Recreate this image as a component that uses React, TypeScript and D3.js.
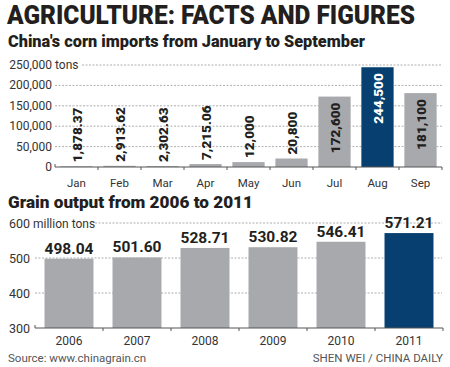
import React from "react";
import * as d3 from "d3";

const months = ["Jan", "Feb", "Mar", "Apr", "May", "Jun", "Jul", "Aug", "Sep"];
const cornImports = [1878.37, 2913.62, 2302.63, 7215.06, 12000, 20800, 172600, 244500, 181100];
const cornLabels = ["1,878.37", "2,913.62", "2,302.63", "7,215.06", "12,000", "20,800", "172,600", "244,500", "181,100"];
const cornTicks = [0, 50000, 100000, 150000, 200000, 250000];

const years = ["2006", "2007", "2008", "2009", "2010", "2011"];
const grainOutput = [498.04, 501.6, 528.71, 530.82, 546.41, 571.21];
const grainLabels = ["498.04", "501.60", "528.71", "530.82", "546.41", "571.21"];
const grainTicks = [300, 400, 500, 600];

const GRAY = "#a7a9ac";
const NAVY = "#063f70";
const INK = "#231f20";
const FONT = "Roboto, 'Liberation Sans', sans-serif";

const App = () => {
  // top chart: corn imports
  const x1 = d3.scaleBand().domain(months).range([55, 442]).paddingInner(0.25).paddingOuter(0.125);
  const y1 = d3.scaleLinear().domain([0, 250000]).range([167, 65]);
  const fmt = d3.format(",");

  // bottom chart: grain output
  const x2 = d3.scaleBand().domain(years).range([35, 443]).paddingInner(0.28).paddingOuter(0.14);
  const y2 = d3.scaleLinear().domain([300, 600]).range([328, 223]);

  const step1 = x1.step();
  const step2 = x2.step();

  return (
    <svg width={450} height={367} style={{ position: "absolute", left: 0, top: 0 }} fontFamily={FONT}>
      <rect width={450} height={367} fill="#fff" />
      <text x={7} y={24} fontSize={26} fontWeight={900} fill={INK} textLength={408} lengthAdjust="spacingAndGlyphs">
        AGRICULTURE: FACTS AND FIGURES
      </text>
      <text x={8} y={47} fontSize={16.5} fontWeight={900} fill={INK} textLength={357} lengthAdjust="spacingAndGlyphs">
        China's corn imports from January to September
      </text>

      {/* grid + y labels, top */}
      {cornTicks.map((t) => (
        <g key={t}>
          <text x={52} y={y1(t) + 4} fontSize={12} fill="#333" textAnchor="end">
            {fmt(t)}
          </text>
          {t === 250000 && (
            <text x={55} y={y1(t) + 4} fontSize={12} fill="#333">tons</text>
          )}
          {t > 0 && (
            <line x1={t === 250000 ? 82 : 55} x2={442} y1={y1(t)} y2={y1(t)} stroke="#999" strokeWidth={0.8} strokeDasharray="2,1.5" />
          )}
        </g>
      ))}

      {months.map((m, i) => {
        const v = cornImports[i];
        const bx = x1(m)!;
        const bw = x1.bandwidth();
        const top = y1(v);
        const inside = v > 100000;
        const cx = bx + bw / 2;
        return (
          <g key={m}>
            <rect x={bx} y={top} width={bw} height={y1(0) - top} fill={i === 7 ? NAVY : GRAY} />
            <text
              transform={`translate(${cx + 5},${inside ? top + 6 : top - 4}) rotate(-90)`}
              textAnchor={inside ? "end" : "start"}
              fontSize={13.5}
              fontWeight={900}
              fill={i === 7 ? "#fff" : INK}
            >
              {cornLabels[i]}
            </text>
            <text x={cx} y={187} fontSize={11.5} textAnchor="middle" fill="#333">
              {m}
            </text>
          </g>
        );
      })}
      <line x1={55} x2={442} y1={167} y2={167} stroke="#555" strokeWidth={1} />
      {d3.range(months.length + 1).map((k) => (
        <line key={k} x1={55 + k * step1} x2={55 + k * step1} y1={k === 0 ? 164 : 167} y2={k === 0 ? 167 : 170} stroke="#555" strokeWidth={1} />
      ))}

      {/* bottom chart */}
      <text x={8} y={208} fontSize={16.5} fontWeight={900} fill={INK} textLength={245} lengthAdjust="spacingAndGlyphs">
        Grain output from 2006 to 2011
      </text>
      {grainTicks.map((t) => (
        <g key={t}>
          <text x={30} y={y2(t) + 4.5} fontSize={12.5} fill="#333" textAnchor="end">
            {t}
          </text>
          {t === 600 && (
            <text x={33} y={y2(t) + 4.5} fontSize={12} fill="#333">million tons</text>
          )}
          {t > 300 && (
            <line x1={t === 600 ? 95 : 35} x2={442} y1={y2(t)} y2={y2(t)} stroke="#999" strokeWidth={0.8} strokeDasharray="2,1.5" />
          )}
        </g>
      ))}
      {years.map((yr, i) => {
        const v = grainOutput[i];
        const bx = x2(yr)!;
        const bw = x2.bandwidth();
        const top = y2(v);
        const cx = bx + bw / 2;
        return (
          <g key={yr}>
            <rect x={bx} y={top} width={bw} height={y2(300) - top} fill={i === 5 ? NAVY : GRAY} />
            <text x={cx} y={top - 5} fontSize={15.5} fontWeight={700} textAnchor="middle" fill={INK}>
              {grainLabels[i]}
            </text>
            <text x={cx} y={345} fontSize={12} textAnchor="middle" fill="#333">
              {yr}
            </text>
          </g>
        );
      })}
      <line x1={35} x2={443} y1={328} y2={328} stroke="#555" strokeWidth={1} />
      {d3.range(years.length + 1).map((k) => (
        <line key={k} x1={35 + k * step2} x2={35 + k * step2} y1={k === 0 ? 325 : 328} y2={k === 0 ? 328 : 331} stroke="#555" strokeWidth={1} />
      ))}

      <text x={8} y={362} fontSize={11.5} fill="#555">Source: www.chinagrain.cn</text>
      <text x={443} y={362} fontSize={11.5} fill="#555" textAnchor="end">SHEN WEI / CHINA DAILY</text>
    </svg>
  );
};

export default App;
